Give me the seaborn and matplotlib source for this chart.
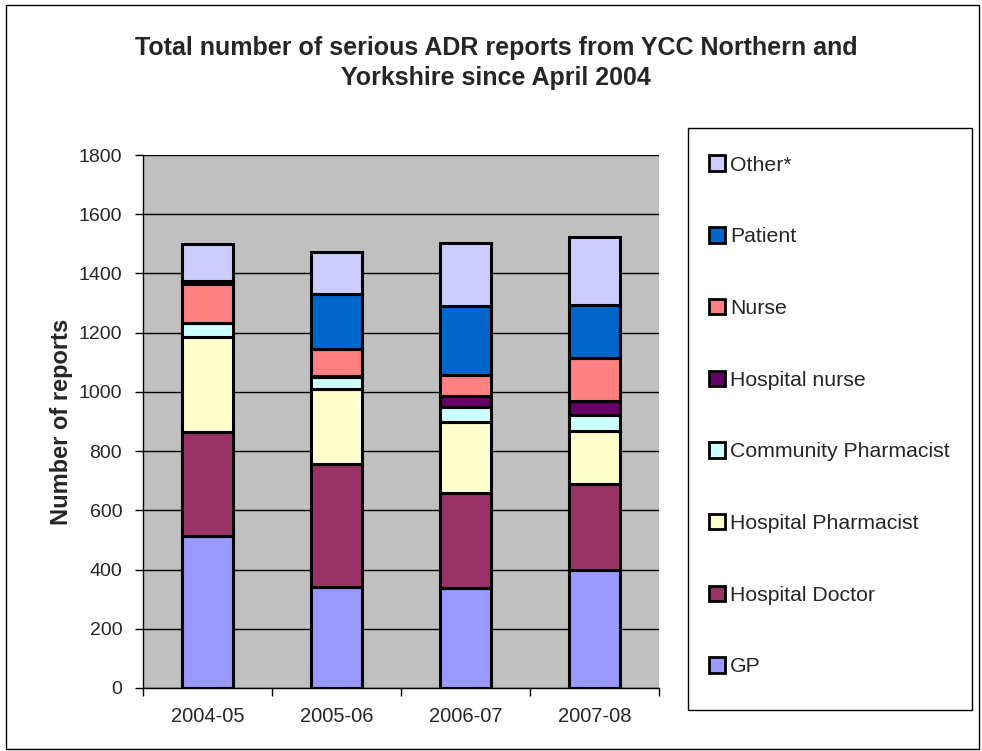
"""
Stacked bar chart of serious ADR reports by reporter type, YCC Northern and Yorkshire.
"""

import matplotlib
matplotlib.use('Agg')
import matplotlib.pyplot as plt
from matplotlib.patches import Rectangle, Patch
import pandas as pd
import seaborn as sns


years = ['2004-05', '2005-06', '2006-07', '2007-08']

# reporter groups, bottom of the stack first
reporters = ['GP', 'Hospital Doctor', 'Hospital Pharmacist', 'Community Pharmacist',
             'Hospital nurse', 'Nurse', 'Patient', 'Other*']

gp = [513, 342, 339, 398]
hospital_doctor = [353, 413, 318, 291]
hospital_pharmacist = [320, 256, 240, 180]
community_pharmacist = [48, 38, 53, 54]
hospital_nurse = [0, 5, 36, 45]
nurse = [130, 91, 71, 146]
patient = [12, 185, 233, 178]
other = [124, 141, 212, 231]

colours = ['#9999FF', '#993366', '#FFFFCC', '#CCFFFF',
           '#660066', '#FF8080', '#0066CC', '#CCCCFF']

y_ticks = [0, 200, 400, 600, 800, 1000, 1200, 1400, 1600, 1800]


def main():
    sns.set_style('white')
    plt.rcParams['font.family'] = ['Liberation Sans', 'DejaVu Sans']

    series = [gp, hospital_doctor, hospital_pharmacist, community_pharmacist,
              hospital_nurse, nurse, patient, other]
    df = pd.DataFrame({name: vals for name, vals in zip(reporters, series)}, index=years)
    bottoms = df.cumsum(axis=1) - df

    fig = plt.figure(figsize=(9.82, 7.51), dpi=100)
    ax = fig.add_axes([0.1456, 0.0839, 0.5255, 0.7097])
    ax.set_facecolor('#C0C0C0')

    for name, col in zip(reporters, colours):
        sns.barplot(x=years, y=df[name].values, bottom=bottoms[name].values,
                    color=col, edgecolor='black', linewidth=2.2, width=0.4,
                    saturation=1, ax=ax, zorder=3)

    ax.set_ylim(0, 1800)
    ax.set_xlim(-0.5, 3.5)
    ax.set_yticks(y_ticks)
    ax.set_yticklabels([str(t) for t in y_ticks], fontsize=14)
    ax.tick_params(axis='y', length=6, width=1, color='black', direction='out', pad=9, left=True)
    ax.tick_params(axis='x', length=0, pad=14, labelsize=14.5)
    ax.set_xticks([-0.5, 0.5, 1.5, 2.5, 3.5], minor=True)
    ax.tick_params(axis='x', which='minor', length=6, width=1, color='black', bottom=True)
    ax.yaxis.grid(True, color='black', linewidth=1)
    ax.set_axisbelow(True)
    for side in ['top', 'right']:
        ax.spines[side].set_visible(False)
    for side in ['left', 'bottom']:
        ax.spines[side].set_color('black')
        ax.spines[side].set_linewidth(1)
    ax.set_xlabel('')
    ax.set_ylabel('Number of reports', fontsize=17, fontweight='bold', labelpad=4)

    fig.text(0.505, 0.916, 'Total number of serious ADR reports from YCC Northern and\nYorkshire since April 2004',
             ha='center', va='center', fontsize=18, fontweight='bold', linespacing=1.3)

    # legend box drawn separately, like the Excel chart
    fig.patches.append(Rectangle((0.7006, 0.0546), 0.2892, 0.775, transform=fig.transFigure,
                                 facecolor='white', edgecolor='black', linewidth=1))
    handles = [Patch(facecolor=c, edgecolor='black', linewidth=2, label=n)
               for n, c in zip(reporters, colours)][::-1]
    fig.legend(handles=handles, loc='upper left', bbox_to_anchor=(0.722, 0.793),
               frameon=False, fontsize=15.3, handlelength=0.75, handleheight=0.75,
               handletextpad=0.25, labelspacing=2.47, borderaxespad=0, borderpad=0)

    # outer chart border
    fig.patches.append(Rectangle((0.006, 0.003), 0.991, 0.991, transform=fig.transFigure,
                                 facecolor='none', edgecolor='black', linewidth=1))

    fig.savefig('out.png', dpi=100)
    plt.close(fig)


if __name__ == '__main__':
    main()
